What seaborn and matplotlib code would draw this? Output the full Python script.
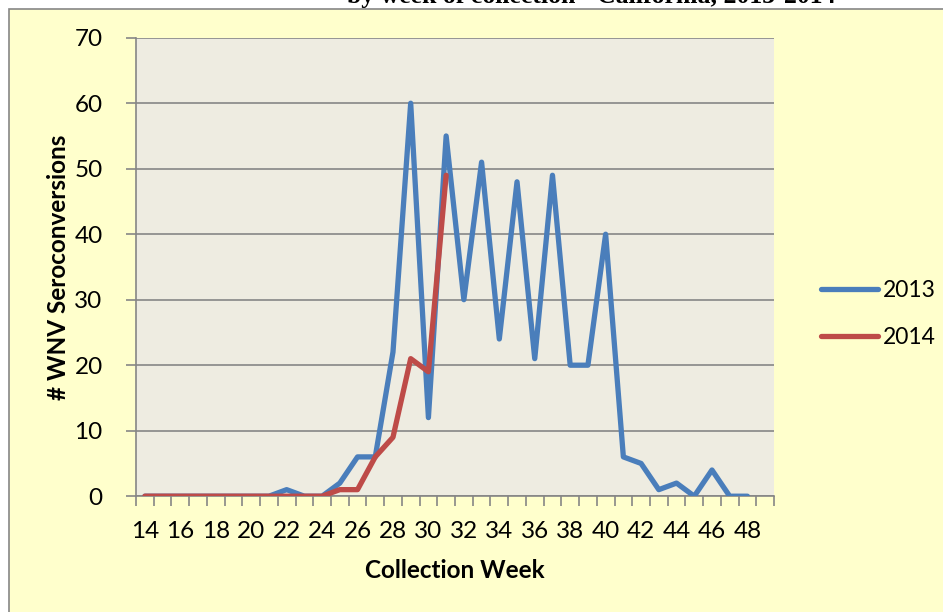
import pandas as pd
import seaborn as sns
import matplotlib.pyplot as plt
from matplotlib.patches import Rectangle

# Weekly WNV seroconversions
weeks_2013 = list(range(14, 49))
counts_2013 = [0, 0, 0, 0, 0, 0, 0, 0, 1, 0, 0, 2, 6, 6, 22, 60, 12, 55, 30, 51,
               24, 48, 21, 49, 20, 20, 40, 6, 5, 1, 2, 0, 4, 0, 0]
weeks_2014 = list(range(14, 32))
counts_2014 = [0, 0, 0, 0, 0, 0, 0, 0, 0, 0, 0, 1, 1, 6, 9, 21, 19, 49]
years = ["2013", "2014"]
x_tick_labels = [str(w) for w in range(14, 49, 2)]
y_ticks = list(range(0, 71, 10))

df = pd.concat([
    pd.DataFrame({"week": weeks_2013, "count": counts_2013, "year": years[0]}),
    pd.DataFrame({"week": weeks_2014, "count": counts_2014, "year": years[1]}),
])

sns.set_style("white")
plt.rcParams["font.family"] = ["Lato", "DejaVu Sans"]
plt.rcParams["text.color"] = "black"
plt.rcParams["axes.labelcolor"] = "black"
plt.rcParams["xtick.labelcolor"] = "black"
plt.rcParams["ytick.labelcolor"] = "black"

fig = plt.figure(figsize=(9.43, 6.12), dpi=100)
fig.patch.set_facecolor("white")

# yellow outer chart box (drawn behind the axes)
fig.patches.append(Rectangle((9 / 943, -0.1), 1.2, 1.1 - 9 / 612,
                             transform=fig.transFigure, facecolor="#FFFFCC",
                             edgecolor="#868686", linewidth=1.2, zorder=-10))

# cut-off title at the top
fig.text(591 / 943, 1 - 3.5 / 612, "by week of collection - California, 2013-2014",
         ha="center", va="baseline", fontsize=18.5, fontweight="bold",
         family="Liberation Serif", color="black")

ax = fig.add_axes([136 / 943, 115.8 / 612, 638 / 943, 458.5 / 612])
ax.set_facecolor("#EEECE1")

sns.lineplot(data=df, x="week", y="count", hue="year", ax=ax,
             palette={"2013": "#4A7EBB", "2014": "#BE4B48"},
             linewidth=3.8, legend=False, zorder=3)
for line in ax.lines:
    line.set_solid_capstyle("round")
    line.set_solid_joinstyle("round")

ax.set_xlim(13.5, 49.5)
ax.set_ylim(0, 70)
ax.set_yticks(y_ticks)
ax.set_yticklabels([str(v) for v in y_ticks])
ax.set_xticks(range(14, 49, 2))
ax.set_xticklabels(x_tick_labels)
ax.set_xticks([w + 0.5 for w in range(13, 50)], minor=True)

ax.grid(axis="y", color="#868686", linewidth=1.2)
ax.set_axisbelow(True)
for side in ["top", "right"]:
    ax.spines[side].set_visible(False)
for side in ["left", "bottom"]:
    ax.spines[side].set_color("#868686")
    ax.spines[side].set_linewidth(1.2)

ax.tick_params(axis="x", which="major", length=0, pad=18, labelsize=17.5)
ax.tick_params(axis="x", which="minor", length=7, width=1.2, color="#868686",
               direction="out", bottom=True)
ax.tick_params(axis="y", length=7, width=1.2, color="#868686", direction="out",
               left=True, pad=17, labelsize=17.5)

ax.set_xlabel("Collection Week", fontsize=17.5, fontweight="bold", labelpad=12)
ax.set_ylabel("# WNV Seroconversions", fontsize=17.5, fontweight="bold", labelpad=3)

handles = [plt.Line2D([], [], color=c, linewidth=3.8, solid_capstyle="round")
           for c in ["#4A7EBB", "#BE4B48"]]
fig.legend(handles, years, loc="center left", bbox_to_anchor=(800 / 943, 1 - 314 / 612),
           frameon=False, fontsize=16.5, handlelength=2.5, handletextpad=0.2,
           labelspacing=1.15)

fig.savefig("out.png", dpi=100, facecolor=fig.get_facecolor())
